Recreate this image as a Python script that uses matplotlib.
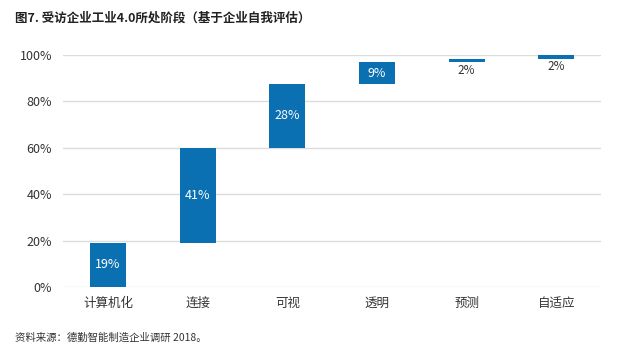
import matplotlib
matplotlib.use("Agg")
import matplotlib.pyplot as plt
import numpy as np

plt.rcParams['font.family'] = ['Noto Sans CJK SC', 'DejaVu Sans']

categories = ['计算机化', '连接', '可视', '透明', '预测', '自适应']
values = [19.0, 41.0, 27.6, 9.2, 1.6, 1.6]
labels = ['19%', '41%', '28%', '9%', '2%', '2%']
yticks = [0, 20, 40, 60, 80, 100]
ytick_labels = ['0%', '20%', '40%', '60%', '80%', '100%']

title = '图7. 受访企业工业4.0所处阶段（基于企业自我评估）'
source = '资料来源：德勤智能制造企业调研 2018。'

bar_color = '#0b70b2'
text_color = '#333333'

fig = plt.figure(figsize=(6.25, 3.6), dpi=100)
ax = fig.add_axes([0.101, 0.203, 0.861, 0.644])

bases = np.concatenate([[0], np.cumsum(values)[:-1]])
x = np.arange(len(categories))
ax.bar(x, values, bottom=bases, width=0.4, color=bar_color, zorder=3, clip_on=False)

for i, (v, b, lab) in enumerate(zip(values, bases, labels)):
    if v >= 5:
        ax.text(i, b + v / 2, lab, ha='center', va='center', color='white', fontsize=9, zorder=4)
    else:
        ax.text(i, b - 0.6, lab, ha='center', va='top', color=text_color, fontsize=8.5, zorder=4)

ax.set_ylim(0, 100)
ax.set_xlim(-0.5, len(categories) - 0.5)
ax.set_yticks(yticks)
ax.set_yticklabels(ytick_labels, fontsize=9, color=text_color)
ax.set_xticks(x)
ax.set_xticklabels(categories, fontsize=9, color=text_color)
ax.tick_params(axis='both', length=0)
ax.tick_params(axis='y', pad=8)
ax.tick_params(axis='x', pad=7)
ax.grid(axis='y', color='#dcdcdc', linewidth=1, zorder=0)
for s in ax.spines.values():
    s.set_visible(False)

fig.text(15 / 625, 1 - 18 / 360, title, fontsize=9, fontweight='bold', color='#222222', va='center', ha='left')
fig.text(15 / 625, 1 - 338 / 360, source, fontsize=7.5, color='#333333', va='center', ha='left')

fig.savefig('out.png', dpi=100)
